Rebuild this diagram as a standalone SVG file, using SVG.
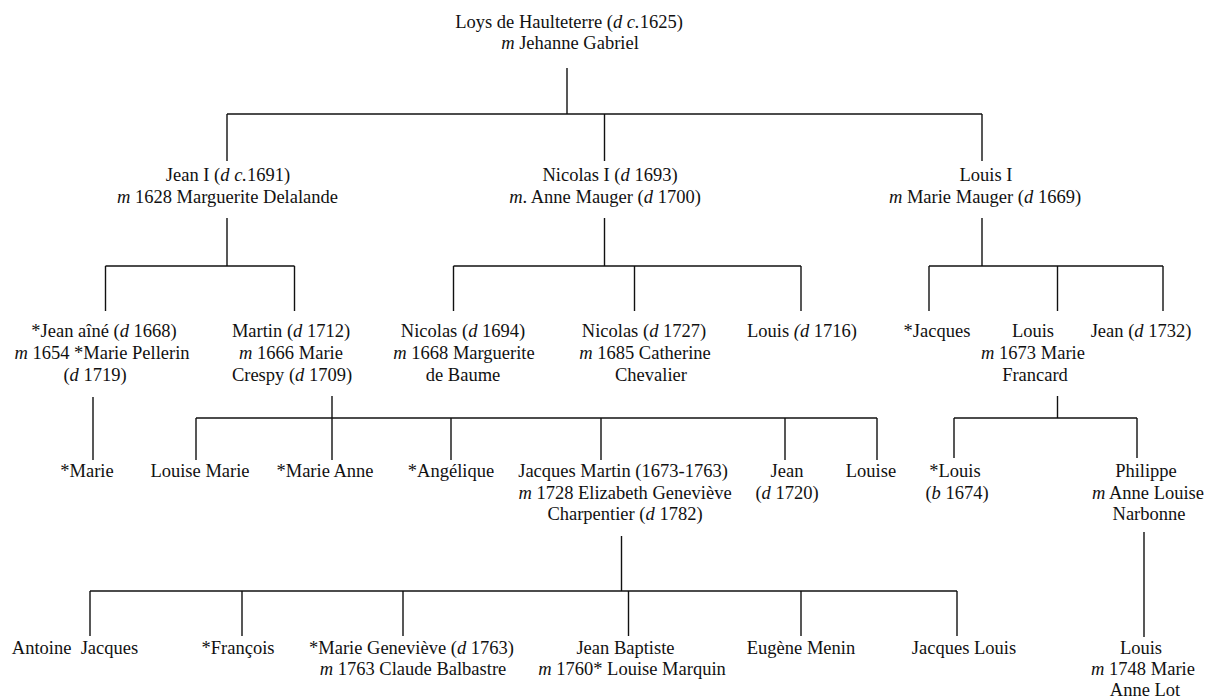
<svg xmlns="http://www.w3.org/2000/svg" width="1212" height="699" viewBox="0 0 1212 699">
<style>
text{font-family:"Liberation Serif","Times New Roman",serif;font-size:18.5px;fill:#111;text-anchor:middle}
.i{font-style:italic}
.c line{stroke:#111;stroke-width:1.4}
</style>
<rect width="1212" height="699" fill="#fff"/>
<g class="c" id="connectors">
<line x1="567" y1="68" x2="567" y2="114"/>
<line x1="227" y1="114" x2="982" y2="114"/>
<line x1="227" y1="114" x2="227" y2="161"/>
<line x1="604.5" y1="114" x2="604.5" y2="161"/>
<line x1="982" y1="114" x2="982" y2="161"/>
<line x1="227" y1="218" x2="227" y2="266"/>
<line x1="105.5" y1="266" x2="294.5" y2="266"/>
<line x1="105.5" y1="266" x2="105.5" y2="311"/>
<line x1="294.5" y1="266" x2="294.5" y2="311"/>
<line x1="604.5" y1="218" x2="604.5" y2="266"/>
<line x1="453.5" y1="266" x2="801" y2="266"/>
<line x1="453.5" y1="266" x2="453.5" y2="311"/>
<line x1="634.5" y1="266" x2="634.5" y2="311"/>
<line x1="801" y1="266" x2="801" y2="311"/>
<line x1="982" y1="218" x2="982" y2="266"/>
<line x1="929" y1="266" x2="1163" y2="266"/>
<line x1="929" y1="266" x2="929" y2="311"/>
<line x1="1057.5" y1="266" x2="1057.5" y2="311"/>
<line x1="1163" y1="266" x2="1163" y2="311"/>
<line x1="93" y1="397" x2="93" y2="460"/>
<line x1="332" y1="396" x2="332" y2="460"/>
<line x1="196" y1="418" x2="877" y2="418"/>
<line x1="196" y1="418" x2="196" y2="460"/>
<line x1="451" y1="418" x2="451" y2="460"/>
<line x1="601" y1="418" x2="601" y2="460"/>
<line x1="785" y1="418" x2="785" y2="460"/>
<line x1="877" y1="418" x2="877" y2="460"/>
<line x1="1057.5" y1="396" x2="1057.5" y2="418"/>
<line x1="954" y1="418" x2="1137" y2="418"/>
<line x1="954" y1="418" x2="954" y2="458"/>
<line x1="1137" y1="418" x2="1137" y2="458"/>
<line x1="621.5" y1="536" x2="621.5" y2="591"/>
<line x1="90" y1="591" x2="957" y2="591"/>
<line x1="90" y1="591" x2="90" y2="636"/>
<line x1="242" y1="591" x2="242" y2="636"/>
<line x1="403" y1="591" x2="403" y2="636"/>
<line x1="628.5" y1="591" x2="628.5" y2="636"/>
<line x1="801" y1="591" x2="801" y2="636"/>
<line x1="957" y1="591" x2="957" y2="636"/>
<line x1="1144" y1="532" x2="1144" y2="637"/>
</g>
<g id="loys"><text x="569" y="28">Loys de Haulteterre (<tspan class="i">d c.</tspan>1625)</text><text x="570" y="49"><tspan class="i">m</tspan> Jehanne Gabriel</text></g>
<g id="jean1"><text x="228" y="181">Jean I (<tspan class="i">d c.</tspan>1691)</text><text x="227.5" y="202.5"><tspan class="i">m</tspan> 1628 Marguerite Delalande</text></g>
<g id="nicolas1"><text x="610" y="181">Nicolas I (<tspan class="i">d</tspan> 1693)</text><text x="605" y="202.5"><tspan class="i">m</tspan>. Anne Mauger (<tspan class="i">d</tspan> 1700)</text></g>
<g id="louis1"><text x="986" y="181">Louis I</text><text x="985" y="202.5"><tspan class="i">m</tspan> Marie Mauger (<tspan class="i">d</tspan> 1669)</text></g>
<g id="jeanaine"><text x="104" y="337">*Jean aîné (<tspan class="i">d</tspan> 1668)</text><text x="102" y="359"><tspan class="i">m</tspan> 1654 *Marie Pellerin</text><text x="95" y="381">(<tspan class="i">d</tspan> 1719)</text></g>
<g id="martin"><text x="291" y="337">Martin (<tspan class="i">d</tspan> 1712)</text><text x="291" y="359"><tspan class="i">m</tspan> 1666 Marie</text><text x="292" y="381">Crespy (<tspan class="i">d</tspan> 1709)</text></g>
<g id="nicolas1694"><text x="463" y="337">Nicolas (<tspan class="i">d</tspan> 1694)</text><text x="464" y="359"><tspan class="i">m</tspan> 1668 Marguerite</text><text x="463" y="381">de Baume</text></g>
<g id="nicolas1727"><text x="644" y="337">Nicolas (<tspan class="i">d</tspan> 1727)</text><text x="645" y="359"><tspan class="i">m</tspan> 1685 Catherine</text><text x="651" y="381">Chevalier</text></g>
<g id="louis1716"><text x="802" y="337">Louis <tspan class="i">(d</tspan> 1716)</text></g>
<g id="jacques"><text x="937" y="337">*Jacques</text></g>
<g id="louis1673"><text x="1033" y="337">Louis</text><text x="1033" y="359"><tspan class="i">m</tspan> 1673 Marie</text><text x="1035" y="381">Francard</text></g>
<g id="jean1732"><text x="1141" y="337">Jean (<tspan class="i">d</tspan> 1732)</text></g>
<g id="marie"><text x="87" y="477">*Marie</text></g>
<g id="louisemarie"><text x="200" y="477">Louise Marie</text></g>
<g id="marieanne"><text x="325" y="477">*Marie Anne</text></g>
<g id="angelique"><text x="451" y="477">*Angélique</text></g>
<g id="jacquesmartin"><text x="623" y="477">Jacques Martin (1673-1763)</text><text x="625" y="499"><tspan class="i">m</tspan> 1728 Elizabeth Geneviève</text><text x="625" y="520">Charpentier (<tspan class="i">d</tspan> 1782)</text></g>
<g id="jean1720"><text x="787" y="477">Jean</text><text x="787" y="499">(<tspan class="i">d</tspan> 1720)</text></g>
<g id="louise"><text x="871" y="477">Louise</text></g>
<g id="louis1674"><text x="955" y="477">*Louis</text><text x="957" y="499">(<tspan class="i">b</tspan> 1674)</text></g>
<g id="philippe"><text x="1146" y="477">Philippe</text><text x="1148" y="499"><tspan class="i">m</tspan> Anne Louise</text><text x="1149" y="520">Narbonne</text></g>
<g id="antoine"><text x="75" y="654" xml:space="preserve">Antoine  Jacques</text></g>
<g id="francois"><text x="238" y="654">*François</text></g>
<g id="mariegenevieve"><text x="411.5" y="654">*Marie Geneviève (<tspan class="i">d</tspan> 1763)</text><text x="413" y="675"><tspan class="i">m</tspan> 1763 Claude Balbastre</text></g>
<g id="jeanbaptiste"><text x="625.5" y="654">Jean Baptiste</text><text x="632" y="675"><tspan class="i">m</tspan> 1760* Louise Marquin</text></g>
<g id="eugene"><text x="801" y="654">Eugène Menin</text></g>
<g id="jacqueslouis"><text x="964" y="654">Jacques Louis</text></g>
<g id="louis1748"><text x="1141" y="654">Louis</text><text x="1143" y="675"><tspan class="i">m</tspan> 1748 Marie</text><text x="1145" y="696">Anne Lot</text></g>
</svg>
